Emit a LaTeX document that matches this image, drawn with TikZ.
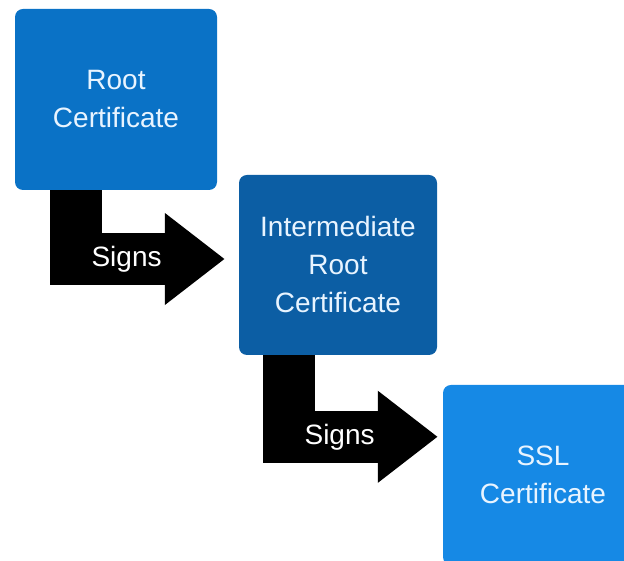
\documentclass[tikz,border=0pt]{standalone}
\usepackage{fontspec}
\setmainfont{Liberation Sans}
\usepackage{tikz}
\usetikzlibrary{arrows.meta}
\definecolor{rootblue}{RGB}{10,114,198}
\definecolor{interblue}{RGB}{12,94,164}
\definecolor{sslblue}{RGB}{22,137,229}
\definecolor{certtext}{RGB}{232,244,255}
\tikzset{cert/.style={rounded corners=8pt, inner sep=0, text=certtext, align=center,
  font=\fontsize{28}{38}\selectfont}}
\tikzset{signs/.style={line width=52pt, -{Triangle[length=60pt, width=88pt]}}}
\tikzset{signs label/.style={text=white, font=\fontsize{28}{30}\selectfont}}

\begin{document}
\begin{tikzpicture}[x=1pt, y=1pt]
  \useasboundingbox (0,0) rectangle (624,561);
  \clip (0,0) rectangle (624,561);

  \node[cert, fill=rootblue, minimum width=202pt, minimum height=181pt] at (116, 461.5) (root) {Root\\Certificate};
  \node[cert, fill=interblue, minimum width=198pt, minimum height=180pt] at (338, 296) (inter) {Intermediate\\Root\\Certificate};
  \node[cert, fill=sslblue, minimum width=200pt, minimum height=180pt] at (543, 86) (ssl) {SSL\\Certificate};

    \draw[signs] ([xshift=-40pt]root.south) |- ([xshift=-14pt, yshift=6pt]inter.west)
      node[signs label, pos=0.67] {Signs};

    \draw[signs] ([xshift=-49pt]inter.south) |- ([xshift=-5pt, yshift=-52pt]ssl.north west)
      node[signs label, pos=0.67] {Signs};
\end{tikzpicture}
\end{document}
